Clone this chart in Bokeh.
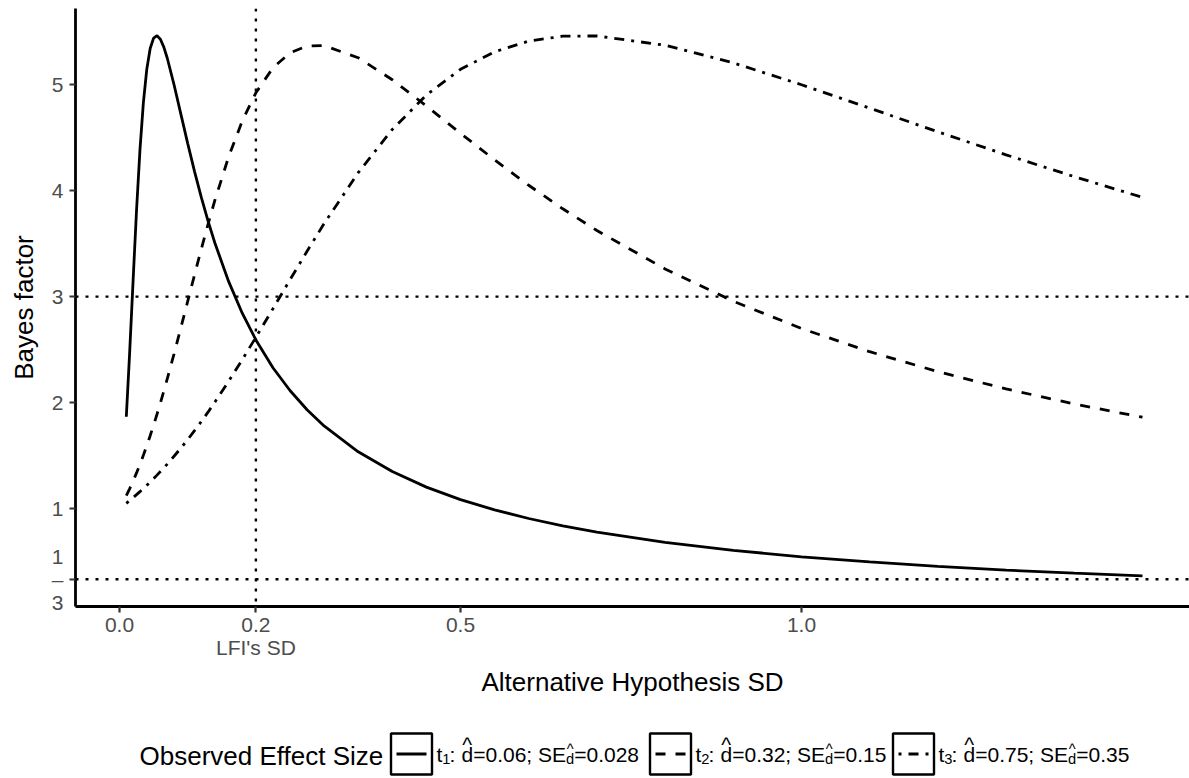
from bokeh.plotting import figure
from bokeh.models import Range1d, FixedTicker, Span
from bokeh.layouts import column
from bokeh.embed import file_html
from bokeh.resources import INLINE
from bokeh.core.properties import value

FONT = "Liberation Sans"

# Alternative hypothesis SD (x) and Bayes factors read for each observed effect
sd = [0.01, 0.015, 0.02, 0.025, 0.03, 0.035, 0.04, 0.045, 0.05, 0.055, 0.06, 0.065, 0.07,
      0.08, 0.09, 0.1, 0.11, 0.12, 0.13, 0.14, 0.16, 0.18, 0.2, 0.225, 0.25, 0.275, 0.3,
      0.35, 0.4, 0.45, 0.5, 0.55, 0.6, 0.65, 0.7, 0.8, 0.9, 1.0, 1.1, 1.2, 1.3, 1.4, 1.5]
t1 = [1.867, 2.483, 3.158, 3.814, 4.382, 4.827, 5.143, 5.34, 5.438, 5.461, 5.427, 5.353, 5.25,
      4.998, 4.721, 4.445, 4.181, 3.936, 3.71, 3.503, 3.143, 2.843, 2.591, 2.329, 2.114, 1.933,
      1.78, 1.536, 1.35, 1.203, 1.085, 0.988, 0.907, 0.838, 0.778, 0.682, 0.606, 0.546, 0.497,
      0.455, 0.42, 0.391, 0.365]
t2 = [1.122, 1.189, 1.26, 1.337, 1.417, 1.503, 1.593, 1.688, 1.787, 1.89, 1.997, 2.109, 2.223,
      2.46, 2.706, 2.955, 3.204, 3.449, 3.686, 3.911, 4.318, 4.656, 4.922, 5.158, 5.299, 5.363,
      5.367, 5.253, 5.045, 4.798, 4.54, 4.289, 4.05, 3.828, 3.623, 3.261, 2.956, 2.699, 2.48,
      2.292, 2.129, 1.987, 1.862]
t3 = [1.05, 1.077, 1.104, 1.132, 1.16, 1.19, 1.22, 1.251, 1.283, 1.316, 1.35, 1.384, 1.42,
      1.494, 1.571, 1.651, 1.735, 1.822, 1.912, 2.006, 2.201, 2.405, 2.616, 2.886, 3.158, 3.427,
      3.688, 4.168, 4.576, 4.901, 5.143, 5.309, 5.409, 5.456, 5.458, 5.37, 5.204, 4.998, 4.777,
      4.554, 4.337, 4.131, 3.936]

x_ticks = [0.0, 0.2, 0.5, 1.0]
x_tick_labels = ["0.0", "0.2\nLFI's SD", "0.5", "1.0"]
y_ticks = [1 / 3, 1, 2, 3, 4, 5]
y_tick_labels = ["1\n\u2013\n3", "1", "2", "3", "4", "5"]
ref_x = [0.2]
ref_y = [3, 1 / 3]

legend_title = "Observed Effect Size"
sub_labels = ["1", "2", "3"]
d_labels = ["=0.06; SE", "=0.32; SE", "=0.75; SE"]
se_labels = ["=0.028", "=0.15", "=0.35"]

LW = 2.8
W = 1189
MAIN_H = 702
LEG_H = 74

p = figure(width=W, height=MAIN_H, x_range=Range1d(-0.0645, -0.0645 + 1114 / 682),
           y_range=Range1d(0.077, 5.717), output_backend="svg", toolbar_location=None,
           min_border_left=75, min_border_right=0, min_border_top=8,
           min_border_bottom=MAIN_H - 606)
p.grid.visible = False
p.outline_line_color = None

p.xaxis.ticker = FixedTicker(ticks=x_ticks)
p.xaxis.major_label_overrides = dict(zip(x_ticks, x_tick_labels))
p.yaxis.ticker = FixedTicker(ticks=y_ticks)
p.yaxis.major_label_overrides = dict(zip(y_ticks, y_tick_labels))
p.xaxis.axis_label = "Alternative Hypothesis SD"
p.yaxis.axis_label = "Bayes factor"
for ax in (p.xaxis[0], p.yaxis[0]):
    ax.axis_line_width = LW
    ax.axis_line_color = "black"
    ax.major_tick_line_color = "#333333"
    ax.major_tick_line_width = 2.2
    ax.major_tick_out = 6
    ax.major_tick_in = 0
    ax.minor_tick_line_color = None
    ax.major_label_text_font = FONT
    ax.major_label_text_font_size = "21px"
    ax.major_label_text_line_height = 1.0
    ax.major_label_text_color = "#4D4D4D"
    ax.axis_label_text_font = FONT
    ax.axis_label_text_font_size = "26px"
    ax.axis_label_text_font_style = "normal"
    ax.axis_label_text_color = "black"
p.xaxis.major_label_standoff = 0
p.yaxis.major_label_standoff = 6
p.xaxis.axis_label_standoff = 5
p.yaxis.axis_label_standoff = 10

for loc in ref_x:
    p.add_layout(Span(location=loc, dimension="height", line_color="black", line_width=2.4,
                      line_dash="3 7"))
for loc in ref_y:
    p.add_layout(Span(location=loc, dimension="width", line_color="black", line_width=2.4,
                      line_dash="3 7"))

p.line(sd, t1, line_color="black", line_width=LW)
p.line(sd, t2, line_color="black", line_width=LW, line_dash="10 10")
p.line(sd, t3, line_color="black", line_width=LW, line_dash="3 7 10 7")

# legend drawn in a strip below the plot (x in page pixels, frame aligned with the plot)
lf = figure(width=W, height=LEG_H, x_range=Range1d(75, W), y_range=Range1d(0, LEG_H),
            output_backend="svg", toolbar_location=None, x_axis_type=None, y_axis_type=None,
            min_border_left=75, min_border_right=0, min_border_top=0, min_border_bottom=0)
lf.grid.visible = False
lf.outline_line_color = None
yc = 22.5
base = yc


def put(x, y, s, size, align="left"):
    lf.text(x=[x], y=[y], text=[s], text_font=value(FONT), text_font_size=size,
            text_align=align, text_baseline="alphabetic", text_color="black")


put(139, yc - 2, legend_title, "26px")

key_centers = [411, 670, 913]
dashes = ["solid", "10 10", "3 7 10 7"]
for kc, dsh, sb, dv, sv in zip(key_centers, dashes, sub_labels, d_labels, se_labels):
    lf.rect(x=[kc], y=[yc], width=41, height=41, fill_color="white",
            line_color="black", line_width=2.4)
    lf.line(x=[kc - 15, kc + 15], y=[yc, yc], line_color="black", line_width=LW, line_dash=dsh)
    tx = kc + 25
    put(tx, base, "t", "21px")
    put(tx + 5.8, base - 4.5, sb, "14.7px")
    put(tx + 13, base, ":", "21px")
    put(tx + 25, base, "d", "21px")
    put(tx + 30.8, base + 9.6, "^", "21px", "center")
    d1 = tx + 36.7
    put(d1, base, dv, "21px")
    s1 = d1 + 92.8
    put(s1, base - 4.5, "d", "14.7px")
    put(s1 + 4.1, base + 5, "^", "14.7px", "center")
    put(s1 + 8.2, base, sv, "21px")

layout = column(p, lf, spacing=0)
open("out.html", "w").write(file_html(layout, INLINE))
